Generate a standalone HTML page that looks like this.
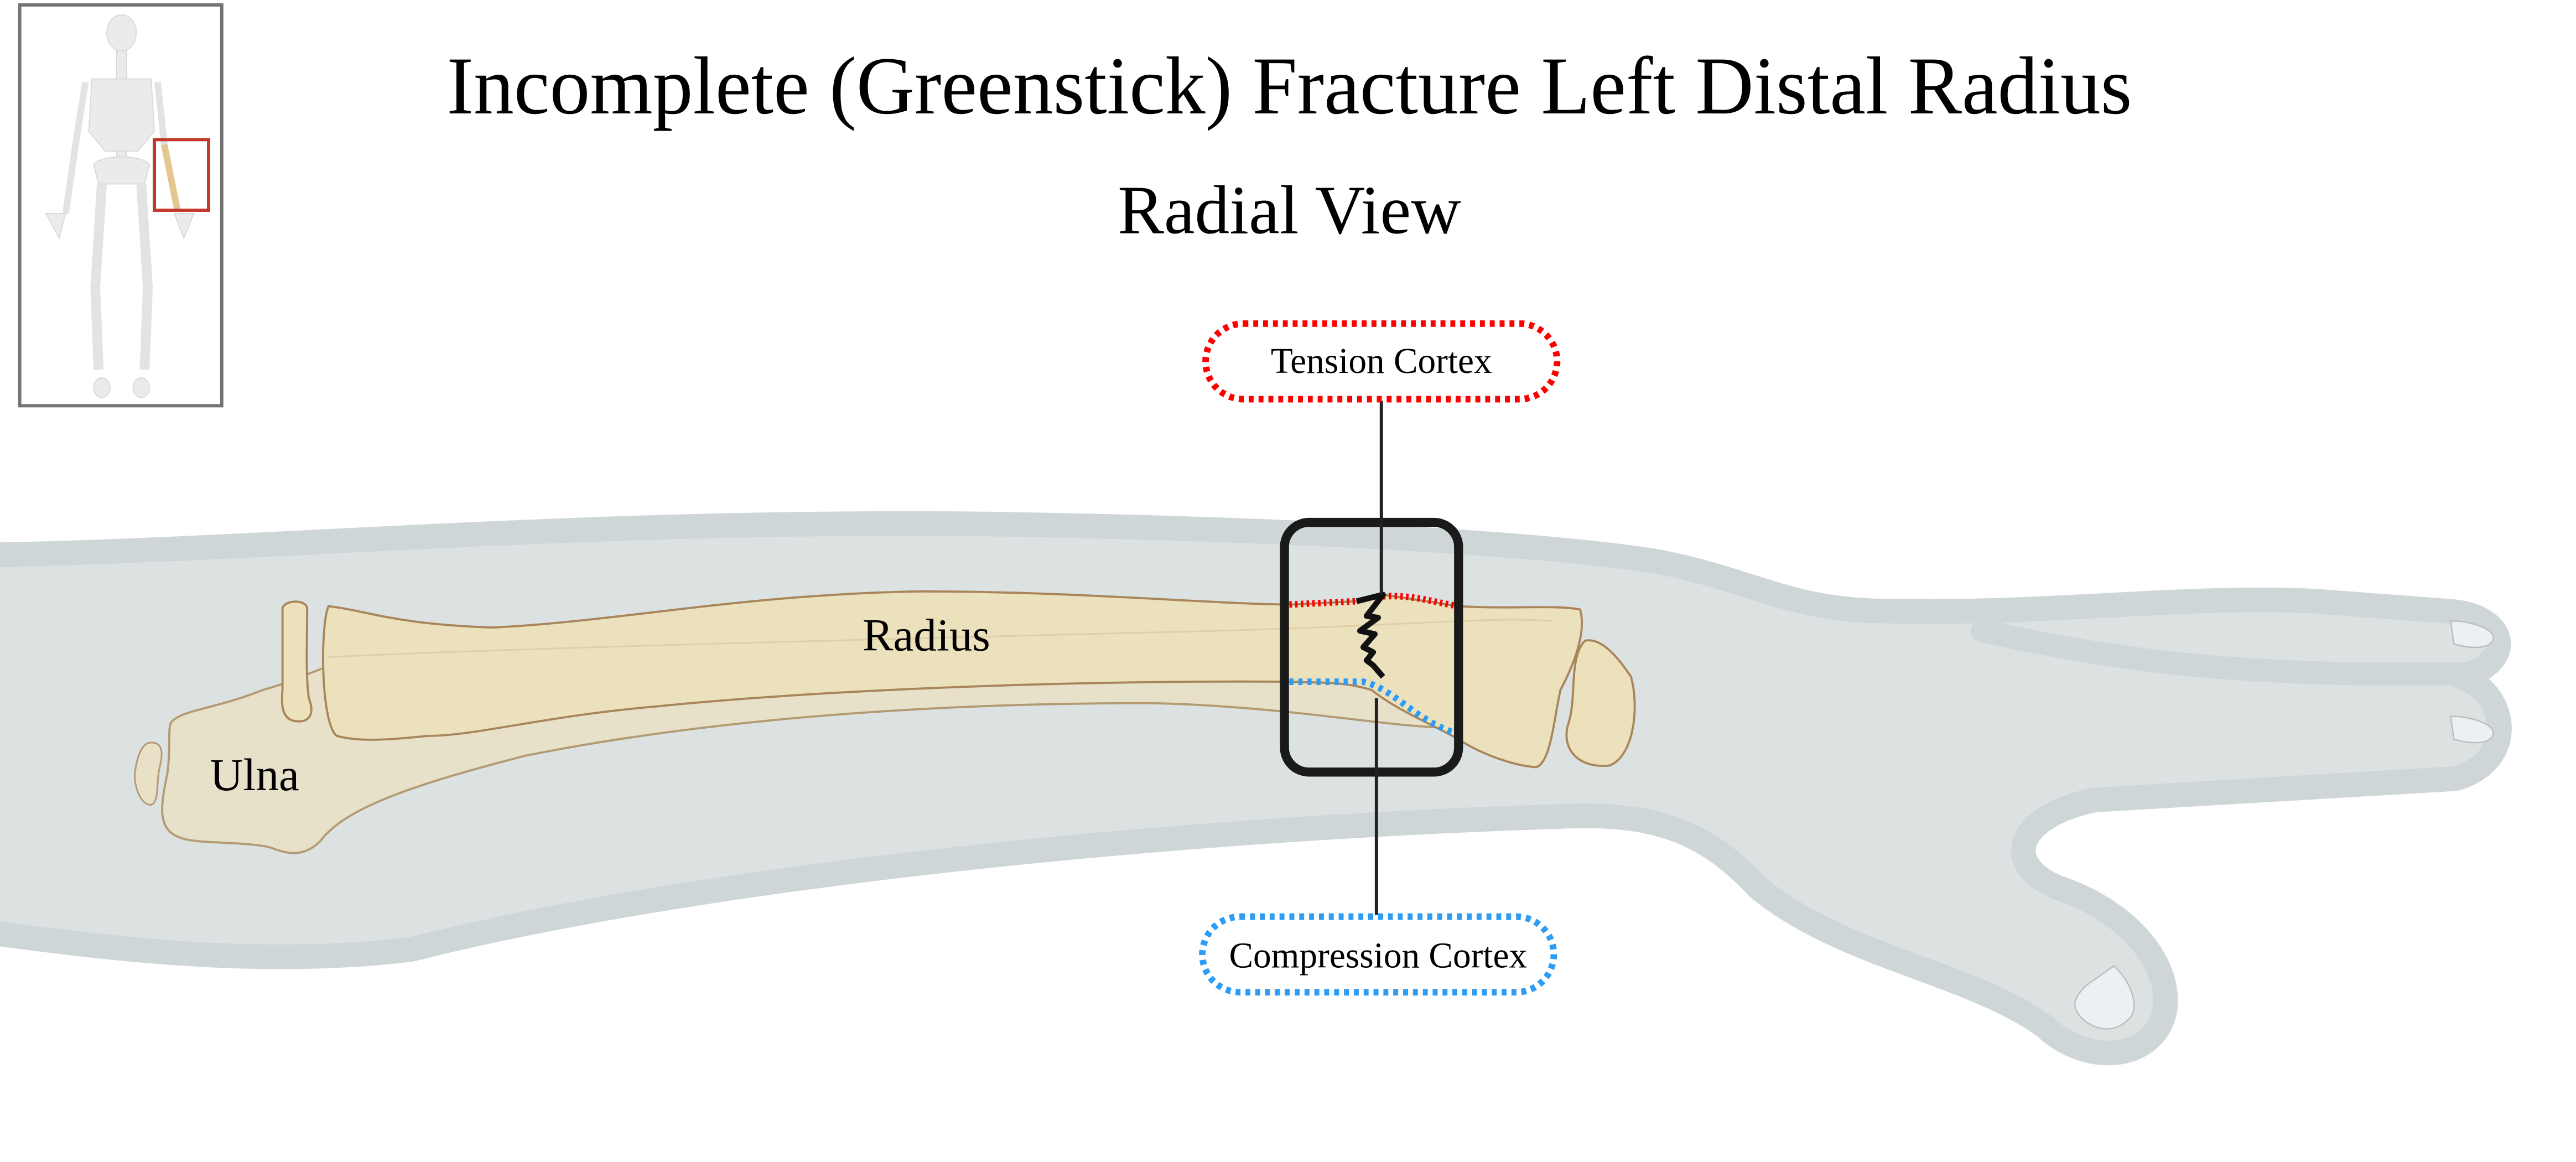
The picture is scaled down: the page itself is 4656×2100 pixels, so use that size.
<!DOCTYPE html>
<html><head><meta charset="utf-8"><style>
html,body{margin:0;padding:0;background:#fff;}
svg{display:block;}
</style></head><body>
<svg width="4656" height="2100" viewBox="0 0 1552 700" xmlns="http://www.w3.org/2000/svg">
<rect width="1552" height="700" fill="#fff"/>
<g transform="scale(0.9896)">
<!-- Thumbnail skeleton -->
<rect x="12" y="3" width="123" height="244" fill="#fff" stroke="#737373" stroke-width="2"/>
<g fill="#ebebeb" stroke="#d8d8d8" stroke-width="0.6">
<ellipse cx="74" cy="20" rx="9" ry="11"/>
<rect x="71" y="31" width="6" height="70"/>
<path d="M56 48 L92 48 L94 80 L84 92 L64 92 L54 80 Z"/>
<path d="M57 100 C62 94 86 94 91 100 L88 112 L60 112 Z"/>
<path d="M52 50 L46 88 L40 130" fill="none" stroke="#e3e3e3" stroke-width="4"/>
<path d="M96 50 L100 88" fill="none" stroke="#e3e3e3" stroke-width="4"/>
<path d="M62 112 L58 175 L60 225" fill="none" stroke="#e3e3e3" stroke-width="6"/>
<path d="M86 112 L90 175 L88 225" fill="none" stroke="#e3e3e3" stroke-width="6"/>
<path d="M28 130 L40 130 L36 145 Z"/>
<path d="M106 130 L118 130 L112 145 Z"/>
<ellipse cx="62" cy="236" rx="5" ry="6"/>
<ellipse cx="86" cy="236" rx="5" ry="6"/>
</g>
<path d="M100 88 L108 128" stroke="#e3c690" stroke-width="4" fill="none"/>
<rect x="94" y="85" width="33" height="43" fill="none" stroke="#c0392b" stroke-width="2"/>

<!-- Titles -->
<text x="785" y="69" font-family="Liberation Serif, serif" font-size="50" text-anchor="middle" textLength="1026" lengthAdjust="spacingAndGlyphs" fill="#000">Incomplete (Greenstick) Fracture Left Distal Radius</text>
<text x="785" y="142" font-family="Liberation Serif, serif" font-size="42" text-anchor="middle" textLength="209" lengthAdjust="spacingAndGlyphs" fill="#000">Radial View</text>

<!-- Arm -->
<path d="M -20,338 C 150,336 350,316 600,319 C 800,322 950,332 1010,342 C 1070,354 1090,372 1150,372 C 1250,374 1330,362 1410,366 L 1490,372 C 1528,374 1532,404 1498,412 C 1525,420 1535,462 1495,474 L 1275,487 C 1228,497 1218,525 1252,540 C 1300,556 1322,590 1318,615 C 1312,645 1272,650 1245,625 C 1200,592 1120,582 1070,540 C 1040,508 1010,494 950,497 C 700,505 420,535 250,578 C 150,590 50,575 -20,566 Z" fill="#dce1e1" stroke="#cfd6d8" stroke-width="15" stroke-linejoin="round"/>
<path d="M 1207,384 C 1300,405 1380,412 1500,410" fill="none" stroke="#cfd6d8" stroke-width="14" stroke-linecap="round"/>
<path d="M1492 378 C1505 378 1518 383 1518 388 C1518 394 1508 396 1494 392 Z" fill="#edf0f2" stroke="#bbb" stroke-width="0.8"/>
<path d="M1492 436 C1505 436 1518 441 1518 446 C1518 452 1508 454 1494 450 Z" fill="#edf0f2" stroke="#bbb" stroke-width="0.8"/>
<path d="M1287 588 C1296 596 1302 610 1298 618 C1292 626 1282 630 1270 622 C1260 614 1262 608 1270 600 Z" fill="#edf0f2" stroke="#bbb" stroke-width="0.8"/>

<!-- Ulna -->
<path d="M 104,440 C 110,432 130,432 160,420 C 190,412 200,400 260,392 C 400,385 700,380 860,388 L 895,440 C 880,450 800,430 700,428 C 550,428 420,440 320,460 C 250,478 210,492 195,512 C 185,522 175,520 165,516 C 150,512 120,514 110,510 C 95,505 98,490 102,470 C 104,455 102,446 104,440 Z" fill="#ebe0c0" fill-opacity="0.75" stroke="#b39a72" stroke-width="1.3"/>
<path d="M 92,452 C 100,452 99,460 97,468 C 95,478 97,488 92,490 C 86,490 82,480 82,472 C 83,462 86,452 92,452 Z" fill="#ebe0c0" fill-opacity="0.8" stroke="#b39a72" stroke-width="1"/>

<!-- Radius -->
<path d="M 200,369 C 225,372 240,380 300,382 C 380,378 450,362 560,360 C 660,360 740,368 787,368 L 826,366 L 842,362 L 888,369 C 920,371 945,368 962,371 C 966,385 958,405 950,420 C 946,438 944,465 935,467 C 920,466 900,458 888,450 C 870,440 850,432 835,420 C 815,414 800,416 787,415 C 650,414 500,420 400,430 C 330,436 290,448 260,448 C 240,450 220,452 205,448 C 195,440 195,380 200,369 Z" fill="#ece1bd" stroke="#a8855a" stroke-width="1.3"/>
<path d="M 200,400 C 300,395 500,390 700,385 C 850,382 900,375 945,378" fill="none" stroke="#e0cfa5" stroke-width="1"/>
<path d="M 172,370 C 174,365 186,365 187,370 C 187,390 186,410 188,425 C 192,435 188,440 180,439 C 172,438 171,430 172,420 Z" fill="#ede1bb" stroke="#a8855a" stroke-width="1.3"/>
<path d="M 965,390 C 975,388 985,400 993,412 C 998,430 995,460 980,466 C 960,468 950,455 955,440 C 960,425 955,400 965,390 Z" fill="#ede1bb" stroke="#a8855a" stroke-width="1.3"/>

<!-- Labels -->
<text x="564" y="396" font-family="Liberation Serif, serif" font-size="28" text-anchor="middle" fill="#000">Radius</text>
<text x="155" y="481" font-family="Liberation Serif, serif" font-size="28" text-anchor="middle" fill="#000">Ulna</text>

<!-- Cortices -->
<path d="M 785,368 L 826,366" stroke="#f00" stroke-width="4" stroke-dasharray="1.5 2" fill="none"/>
<path d="M 842,363 C 860,362 870,366 888,369" stroke="#f00" stroke-width="4" stroke-dasharray="1.5 2" fill="none"/>
<path d="M 785,415 L 830,415 C 850,420 860,438 888,447" stroke="#2d9cf5" stroke-width="4" stroke-dasharray="2.5 3" fill="none"/>
<!-- crack -->
<path d="M 826,366 L 842,362 L 832,375 L 839,376 L 828,384 L 837,386 L 830,394 L 836,397 L 832,402 L 836,405 L 842,412" fill="none" stroke="#111" stroke-width="3.5" stroke-linejoin="round"/>

<!-- Box & connectors -->
<rect x="782" y="318" width="106" height="152" rx="15" fill="none" stroke="#1a1a1a" stroke-width="5.5"/>
<line x1="841" y1="244" x2="841" y2="362" stroke="#222" stroke-width="2"/>
<line x1="838" y1="425" x2="838" y2="557" stroke="#222" stroke-width="2"/>

<rect x="734" y="197" width="214" height="46" rx="23" fill="#fff" stroke="#f00" stroke-width="4" stroke-dasharray="3 3"/>
<text x="841" y="227" font-family="Liberation Serif, serif" font-size="22" text-anchor="middle" fill="#000">Tension Cortex</text>
<rect x="732" y="558" width="214" height="46" rx="23" fill="#fff" stroke="#2d9cf5" stroke-width="4" stroke-dasharray="3 3"/>
<text x="839" y="589" font-family="Liberation Serif, serif" font-size="22" text-anchor="middle" fill="#000">Compression Cortex</text>
</g>
</svg>
</body></html>
